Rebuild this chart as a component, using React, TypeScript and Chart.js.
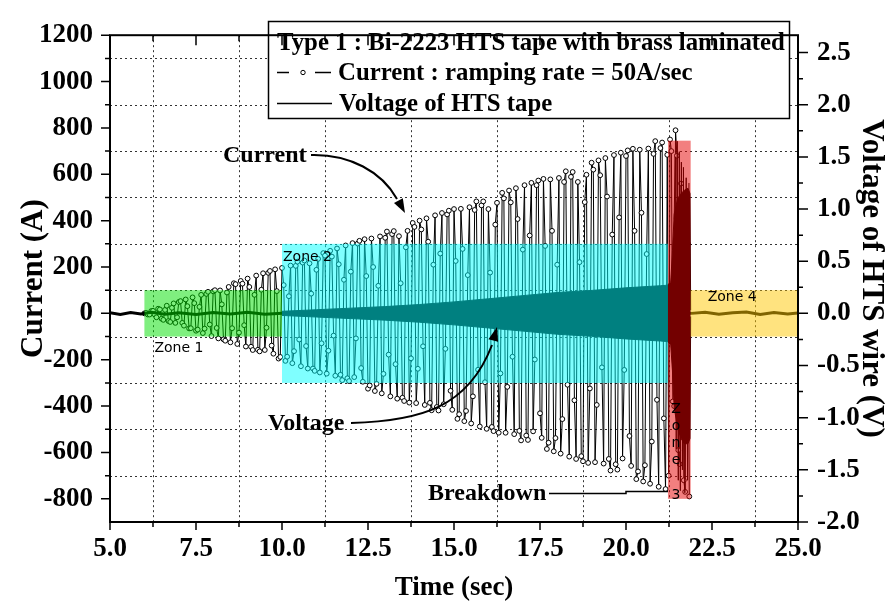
import React, { useEffect, useRef } from "react";
import { Chart, registerables } from "chart.js";

Chart.register(...registerables);

const SERIF = "'Liberation Serif', 'Times New Roman', serif";
const SANS = "'DejaVu Sans', Verdana, sans-serif";

// ---- axes ----
const timeTicks = [5.0, 7.5, 10.0, 12.5, 15.0, 17.5, 20.0, 22.5, 25.0];
const currentTicks = [-800, -600, -400, -200, 0, 200, 400, 600, 800, 1000, 1200];
const voltageTicks = [-2.0, -1.5, -1.0, -0.5, 0.0, 0.5, 1.0, 1.5, 2.0, 2.5];
const timeRange = [5, 25];
const currentRange = [-900, 1200];
const voltageRange = [-2.0, 2.6667];

// ---- current (A) ----
const currentTime = [
  6.00, 6.05, 6.10, 6.15, 6.20, 6.25, 6.30, 6.35, 6.40, 6.45, 6.50, 6.55, 6.60, 6.65, 6.70, 6.75, 6.80, 6.85, 6.90, 6.95,
  7.00, 7.05, 7.10, 7.15, 7.20, 7.25, 7.30, 7.35, 7.40, 7.45, 7.50, 7.55, 7.60, 7.65, 7.70, 7.75, 7.80, 7.85, 7.90, 7.95,
  8.00, 8.05, 8.10, 8.15, 8.20, 8.25, 8.30, 8.35, 8.40, 8.45, 8.50, 8.55, 8.60, 8.65, 8.70, 8.75, 8.80, 8.85, 8.90, 8.95,
  9.00, 9.05, 9.10, 9.15, 9.20, 9.25, 9.30, 9.35, 9.40, 9.45, 9.50, 9.55, 9.60, 9.65, 9.70, 9.75, 9.80, 9.85, 9.90, 9.95,
  10.00, 10.05, 10.10, 10.15, 10.20, 10.25, 10.30, 10.35, 10.40, 10.45, 10.50, 10.55, 10.60, 10.65, 10.70, 10.75, 10.80, 10.85, 10.90, 10.95,
  11.00, 11.05, 11.10, 11.15, 11.20, 11.25, 11.30, 11.35, 11.40, 11.45, 11.50, 11.55, 11.60, 11.65, 11.70, 11.75, 11.80, 11.85, 11.90, 11.95,
  12.00, 12.05, 12.10, 12.15, 12.20, 12.25, 12.30, 12.35, 12.40, 12.45, 12.50, 12.55, 12.60, 12.65, 12.70, 12.75, 12.80, 12.85, 12.90, 12.95,
  13.00, 13.05, 13.10, 13.15, 13.20, 13.25, 13.30, 13.35, 13.40, 13.45, 13.50, 13.55, 13.60, 13.65, 13.70, 13.75, 13.80, 13.85, 13.90, 13.95,
  14.00, 14.05, 14.10, 14.15, 14.20, 14.25, 14.30, 14.35, 14.40, 14.45, 14.50, 14.55, 14.60, 14.65, 14.70, 14.75, 14.80, 14.85, 14.90, 14.95,
  15.00, 15.05, 15.10, 15.15, 15.20, 15.25, 15.30, 15.35, 15.40, 15.45, 15.50, 15.55, 15.60, 15.65, 15.70, 15.75, 15.80, 15.85, 15.90, 15.95,
  16.00, 16.05, 16.10, 16.15, 16.20, 16.25, 16.30, 16.35, 16.40, 16.45, 16.50, 16.55, 16.60, 16.65, 16.70, 16.75, 16.80, 16.85, 16.90, 16.95,
  17.00, 17.05, 17.10, 17.15, 17.20, 17.25, 17.30, 17.35, 17.40, 17.45, 17.50, 17.55, 17.60, 17.65, 17.70, 17.75, 17.80, 17.85, 17.90, 17.95,
  18.00, 18.05, 18.10, 18.15, 18.20, 18.25, 18.30, 18.35, 18.40, 18.45, 18.50, 18.55, 18.60, 18.65, 18.70, 18.75, 18.80, 18.85, 18.90, 18.95,
  19.00, 19.05, 19.10, 19.15, 19.20, 19.25, 19.30, 19.35, 19.40, 19.45, 19.50, 19.55, 19.60, 19.65, 19.70, 19.75, 19.80, 19.85, 19.90, 19.95,
  20.00, 20.05, 20.10, 20.15, 20.20, 20.25, 20.30, 20.35, 20.40, 20.45, 20.50, 20.55, 20.60, 20.65, 20.70, 20.75, 20.80, 20.85, 20.90, 20.95,
  21.00, 21.05, 21.10, 21.15, 21.20,
  21.24, 21.28, 21.32, 21.36, 21.40, 21.44, 21.48, 21.52, 21.56, 21.60, 21.64, 21.68, 21.72, 21.76, 21.80, 21.84,
];
const currentValue = [
  0, 2, -5, -5, 10, 11, -5, -17, 20, 17, -23, -28, 15, 33, -33, -37, 24, 43, -41, -17,
  49, 53, -41, -53, 60, 31, -65, -64, 69, 44, -75, -70, 28, 80, -85, -66, 84, 93, -48, -98,
  95, 100, -63, -108, 99, 39, -112, -118, 90, 114, -125, -64, 130, 126, -132, -83, 140, 128, -51, -143,
  150, 114, -144, -158, 80, 163, -157, -164, 102, 173, -158, -62, 175, 183, -139, -174, 190, 96, -195, -188,
  196, 122, -205, -187, 74, 206, -215, -163, 205, 223, -113, -228, 219, 228, -141, -238, 216, 85, -238, -248,
  188, 235, -255, -129, 260, 249, -260, -161, 270, 245, -96, -269, 280, 212, -265, -288, 145, 293, -280, -292,
  180, 303, -275, -108, 301, 313, -236, -295, 320, 161, -325, -311, 323, 200, -335, -304, 119, 332, -345, -261,
  326, 353, -178, -358, 342, 355, -219, -368, 333, 130, -364, -378, 285, 356, -385, -194, 390, 373, -387, -239,
  400, 362, -142, -395, 410, 309, -386, -418, 210, 423, -404, -419, 258, 433, -392, -153, 427, 443, -334, -416,
  450, 226, -455, -435, 451, 278, -465, -421, 165, 458, -475, -358, 446, 483, -243, -488, 466, 483, -297, -498,
  450, 176, -490, -508, 383, 477, -515, -259, 520, 496, -515, -317, 530, 479, -187, -521, 540, 407, -507, -548,
  275, 553, -527, -546, 336, 563, -509, -199, 553, 573, -431, -537, 580, 291, -585, -558, 578, 356, -595, -538,
  210, 584, -605, -456, 567, 613, -308, -618, 589, 610, -375, -628, 567, 221, -616, -638, 480, 598, -645, -324,
  650, 620, -642, -395, 660, 596, -233, -648, 670, 504, -628, -678, 340, 683, -651, -674, 414, 693, -626, -244,
  679, 703, -529, -658, 710, 356, -715, -682, 706, 434, -725, -655, 256, 711, -735, -553, 688, 743, -373, -748,
  713, 737, -453, -758, 684,
  -700, 750, 700, -380, -400, 790, 680, -590, -650, 560, 380, -720, -770, 490, 300, -790,
];

// ---- voltage (V): envelope of the fast oscillation ----
const voltageEnvTime = [10, 11, 12, 13, 14, 15, 16, 17, 18, 19, 20, 21, 21.2, 21.3, 21.35, 21.4, 21.5, 21.6, 21.7, 21.8, 21.86, 21.88];
const voltageUpper = [0.02, 0.035, 0.05, 0.065, 0.085, 0.11, 0.14, 0.17, 0.2, 0.22, 0.245, 0.265, 0.27, 0.3, 0.6, 0.95, 1.1, 1.15, 1.18, 1.2, 1.15, 0.03];
const voltageLower = [-0.02, -0.035, -0.05, -0.065, -0.085, -0.11, -0.14, -0.17, -0.2, -0.22, -0.245, -0.265, -0.27, -0.3, -0.55, -0.9, -1.1, -1.2, -1.25, -1.25, -1.2, -0.03];

// voltage spikes during breakdown
const spikeTime = [21.4, 21.43, 21.46, 21.49, 21.52, 21.55, 21.58, 21.61, 21.64, 21.67, 21.71, 21.75, 21.79, 21.83];
const spikeValue = [0.9, 1.5, -1.3, 1.65, -1.6, 1.55, -1.7, 1.45, -1.5, 1.4, -1.72, 1.3, -1.6, 1.25];

// voltage baseline (outside the oscillation band)
const voltageBaseTime = [5.0, 5.3, 5.6, 5.9, 6.2, 6.6, 7.0, 7.5, 8.0, 8.5, 9.0, 9.5, 10.0, 21.9, 22.3, 22.7, 23.1, 23.5, 23.9, 24.3, 24.7, 25.0];
const voltageBaseValue = [0.005, -0.01, 0.008, -0.005, 0.01, -0.008, 0.006, -0.01, 0.008, -0.006, 0.01, -0.008, 0.0, 0.0, 0.01, -0.008, 0.006, 0.012, -0.01, 0.008, -0.006, 0.004];

// ---- zones ----
const zoneNames = ["Zone 1", "Zone 2", "Zone 3", "Zone 4"];
const zoneStart = [6.0, 10.0, 21.22, 21.88];
const zoneEnd = [10.0, 21.22, 21.88, 25.0];
const zoneLow = [-100, -300, -800, -100];
const zoneHigh = [100, 300, 745, 100];
const zoneColors = ["rgba(0,224,0,0.5)", "rgba(0,255,255,0.5)", "rgba(230,0,0,0.5)", "rgba(255,200,0,0.5)"];

const legendLines = [
  "Type 1 : Bi-2223 HTS tape with brass laminated",
  "Current : ramping rate = 50A/sec",
  "Voltage of HTS tape",
];

function mids(arr: number[]) {
  const out: number[] = [];
  for (let i = 0; i < arr.length - 1; i++) out.push((arr[i] + arr[i + 1]) / 2);
  return out;
}

function arrowHead(ctx: CanvasRenderingContext2D, tx: number, ty: number, ang: number, len = 14, half = 5) {
  ctx.beginPath();
  ctx.moveTo(tx, ty);
  ctx.lineTo(tx - len * Math.cos(ang) + half * Math.sin(ang), ty - len * Math.sin(ang) - half * Math.cos(ang));
  ctx.lineTo(tx - len * Math.cos(ang) - half * Math.sin(ang), ty - len * Math.sin(ang) + half * Math.cos(ang));
  ctx.closePath();
  ctx.fill();
}

const decorPlugin = {
  id: "decor",
  beforeDatasetsDraw(chart: any) {
    const { ctx, chartArea: a, scales } = chart;
    const x = scales.x, y = scales.y;
    ctx.save();
    ctx.strokeStyle = "#333";
    ctx.lineWidth = 1;
    ctx.setLineDash([2, 3]);
    mids(timeTicks).forEach((v) => {
      const px = Math.round(x.getPixelForValue(v)) + 0.5;
      ctx.beginPath(); ctx.moveTo(px, a.top); ctx.lineTo(px, a.bottom); ctx.stroke();
    });
    mids(currentTicks).forEach((v) => {
      const py = Math.round(y.getPixelForValue(v)) + 0.5;
      ctx.beginPath(); ctx.moveTo(a.left, py); ctx.lineTo(a.right, py); ctx.stroke();
    });
    ctx.restore();
  },
  afterDatasetsDraw(chart: any) {
    const { ctx, scales } = chart;
    const x = scales.x, y = scales.y;
    ctx.save();
    const zr = zoneNames.map((_, i) => ({
      x0: x.getPixelForValue(zoneStart[i]),
      x1: x.getPixelForValue(zoneEnd[i]),
      yt: y.getPixelForValue(zoneHigh[i]),
      yb: y.getPixelForValue(zoneLow[i]),
    }));
    zr.forEach((r, i) => {
      ctx.fillStyle = zoneColors[i];
      ctx.fillRect(r.x0, r.yt, r.x1 - r.x0, r.yb - r.yt);
    });
    ctx.fillStyle = "#000";
    ctx.font = `14px ${SANS}`;
    ctx.textAlign = "left";
    ctx.textBaseline = "alphabetic";
    ctx.fillText(zoneNames[0], zr[0].x0 + 10, zr[0].yb + 15);
    ctx.fillText(zoneNames[1], zr[1].x0 + 1, zr[1].yt + 17);
    ctx.fillText(zoneNames[3], zr[3].x0 + 17, zr[3].yt + 11);
    ctx.textAlign = "center";
    const chars = zoneNames[2].split("");
    chars.forEach((c, k) => {
      ctx.fillText(c, zr[2].x0 + 8, zr[2].yb - (chars.length - 1 - k) * 17.2);
    });
    ctx.restore();
  },
  afterDraw(chart: any) {
    const { ctx, chartArea: a, scales } = chart;
    const x = scales.x, y = scales.y, y2 = scales.y2;
    ctx.save();
    ctx.setLineDash([]);
    ctx.textBaseline = "alphabetic";

    // legend box
    ctx.fillStyle = "#fff";
    ctx.fillRect(268, 21, 521, 97);
    ctx.strokeStyle = "#000";
    ctx.lineWidth = 1.5;
    ctx.strokeRect(268.5, 21.5, 521, 97);
    ctx.fillStyle = "#000";
    ctx.font = `bold 24.8px ${SERIF}`;
    ctx.textAlign = "left";
    ctx.fillText(legendLines[0], 277, 50);
    ctx.fillText(legendLines[1], 338, 80);
    ctx.fillText(legendLines[2], 339, 111);
    ctx.lineWidth = 1.5;
    ctx.beginPath();
    ctx.moveTo(277, 72.5); ctx.lineTo(289, 72.5);
    ctx.moveTo(315, 72.5); ctx.lineTo(331, 72.5);
    ctx.moveTo(277, 103.5); ctx.lineTo(332, 103.5);
    ctx.stroke();
    ctx.lineWidth = 1;
    ctx.beginPath(); ctx.arc(303, 72.5, 2.2, 0, Math.PI * 2);
    ctx.fillStyle = "#fff"; ctx.fill(); ctx.stroke();

    // annotations
    ctx.fillStyle = "#000";
    ctx.font = `bold 24px ${SERIF}`;
    ctx.fillText("Current", 223, 162);
    ctx.fillText("Voltage", 268, 430);
    ctx.fillText("Breakdown", 428, 500);
    ctx.lineWidth = 2;
    ctx.beginPath();
    ctx.moveTo(311, 155);
    ctx.bezierCurveTo(350, 154, 382, 172, 397, 199);
    ctx.stroke();
    arrowHead(ctx, 405, 213, Math.atan2(15, 8));
    ctx.beginPath();
    ctx.moveTo(351, 423);
    ctx.bezierCurveTo(420, 421, 468, 408, 492, 345);
    ctx.stroke();
    arrowHead(ctx, 497, 327, Math.atan2(-18, 5));
    ctx.lineWidth = 1.5;
    ctx.beginPath();
    ctx.moveTo(549, 493.5); ctx.lineTo(626, 493.5); ctx.lineTo(626, 491.5); ctx.lineTo(668, 491.5);
    ctx.stroke();

    // frame
    ctx.strokeStyle = "#000";
    ctx.lineWidth = 2;
    ctx.strokeRect(a.left, a.top, a.right - a.left, a.bottom - a.top);
    // ticks
    ctx.lineWidth = 1.5;
    ctx.beginPath();
    timeTicks.forEach((v) => {
      const px = x.getPixelForValue(v);
      ctx.moveTo(px, a.bottom); ctx.lineTo(px, a.bottom + 8);
      ctx.moveTo(px, a.top); ctx.lineTo(px, a.top + 10);
    });
    mids(timeTicks).forEach((v) => {
      const px = x.getPixelForValue(v);
      ctx.moveTo(px, a.bottom); ctx.lineTo(px, a.bottom + 5);
      ctx.moveTo(px, a.top); ctx.lineTo(px, a.top + 6);
    });
    currentTicks.forEach((v) => {
      const py = y.getPixelForValue(v);
      ctx.moveTo(a.left, py); ctx.lineTo(a.left - 9, py);
    });
    mids(currentTicks).forEach((v) => {
      const py = y.getPixelForValue(v);
      ctx.moveTo(a.left, py); ctx.lineTo(a.left - 5, py);
    });
    voltageTicks.forEach((v) => {
      const py = y2.getPixelForValue(v);
      ctx.moveTo(a.right, py); ctx.lineTo(a.right + 10, py);
    });
    mids(voltageTicks).forEach((v) => {
      const py = y2.getPixelForValue(v);
      ctx.moveTo(a.right, py); ctx.lineTo(a.right + 5, py);
    });
    ctx.stroke();

    // axis titles
    ctx.fillStyle = "#000";
    ctx.font = `bold 27px ${SERIF}`;
    ctx.textAlign = "center";
    ctx.fillText("Time (sec)", 454, 595);
    ctx.font = `bold 31px ${SERIF}`;
    const midY = (a.top + a.bottom) / 2;
    ctx.save();
    ctx.translate(42, midY);
    ctx.rotate(-Math.PI / 2);
    ctx.fillText("Current (A)", 0, 0);
    ctx.restore();
    ctx.save();
    ctx.translate(863, midY);
    ctx.rotate(Math.PI / 2);
    ctx.fillText("Voltage of HTS wire (V)", 0, 0);
    ctx.restore();
    ctx.restore();
  },
};

const tickFont = { family: SERIF, size: 27, weight: "bold" as const };

export default function App() {
  const ref = useRef<HTMLCanvasElement | null>(null);
  useEffect(() => {
    if (!ref.current) return;
    const chart = new Chart(ref.current, {
      type: "line",
      data: {
        datasets: [
          {
            data: voltageEnvTime.map((t, i) => ({ x: t, y: voltageUpper[i] })),
            yAxisID: "y2",
            borderColor: "#000",
            borderWidth: 1,
            backgroundColor: "#000",
            pointRadius: 0,
            fill: "+1",
            tension: 0,
          },
          {
            data: voltageEnvTime.map((t, i) => ({ x: t, y: voltageLower[i] })),
            yAxisID: "y2",
            borderColor: "#000",
            borderWidth: 1,
            pointRadius: 0,
            fill: false,
            tension: 0,
          },
          {
            data: spikeTime.map((t, i) => ({ x: t, y: spikeValue[i] })),
            yAxisID: "y2",
            borderColor: "#000",
            borderWidth: 1,
            pointRadius: 0,
            fill: false,
            tension: 0,
          },
          {
            data: voltageBaseTime.map((t, i) => ({ x: t, y: voltageBaseValue[i] })),
            yAxisID: "y2",
            borderColor: "#000",
            borderWidth: 3,
            pointRadius: 0,
            fill: false,
            tension: 0,
          },
          {
            data: currentTime.map((t, i) => ({ x: t, y: currentValue[i] })),
            yAxisID: "y",
            borderColor: "#000",
            borderWidth: 1,
            pointRadius: 2.4,
            pointBackgroundColor: "#fff",
            pointBorderColor: "#000",
            pointBorderWidth: 1,
            fill: false,
            tension: 0,
          },
        ],
      },
      options: {
        animation: false,
        responsive: false,
        maintainAspectRatio: false,
        events: [],
        layout: { padding: { top: 17, left: 0, right: 0, bottom: 0 } },
        plugins: { legend: { display: false }, tooltip: { enabled: false } },
        scales: {
          x: {
            type: "linear",
            min: timeRange[0],
            max: timeRange[1],
            afterBuildTicks: (s: any) => { s.ticks = timeTicks.map((v) => ({ value: v })); },
            afterFit: (s: any) => { s.height = 80; },
            grid: { display: false, drawTicks: false },
            border: { display: false },
            ticks: { font: tickFont, color: "#000", padding: 11, maxRotation: 0, autoSkip: false, callback: (v: any) => Number(v).toFixed(1) },
          },
          y: {
            type: "linear",
            position: "left",
            min: currentRange[0],
            max: currentRange[1],
            afterBuildTicks: (s: any) => { s.ticks = currentTicks.map((v) => ({ value: v })); },
            afterFit: (s: any) => { s.width = 110; },
            grid: { display: false, drawTicks: false },
            border: { display: false },
            ticks: { font: tickFont, color: "#000", padding: 17, autoSkip: false, callback: (v: any) => String(v) },
          },
          y2: {
            type: "linear",
            position: "right",
            min: voltageRange[0],
            max: voltageRange[1],
            afterBuildTicks: (s: any) => { s.ticks = voltageTicks.map((v) => ({ value: v })); },
            afterFit: (s: any) => { s.width = 95; },
            grid: { display: false, drawTicks: false },
            border: { display: false },
            ticks: { font: tickFont, color: "#000", padding: 19, autoSkip: false, callback: (v: any) => Number(v).toFixed(1) },
          },
        },
      } as any,
      plugins: [decorPlugin],
    });
    return () => chart.destroy();
  }, []);
  return (
    <div style={{ position: "fixed", left: 0, top: 0, width: 893, height: 602, background: "#fff" }}>
      <canvas ref={ref} width={893} height={602} style={{ width: 893, height: 602, display: "block" }} />
    </div>
  );
}
